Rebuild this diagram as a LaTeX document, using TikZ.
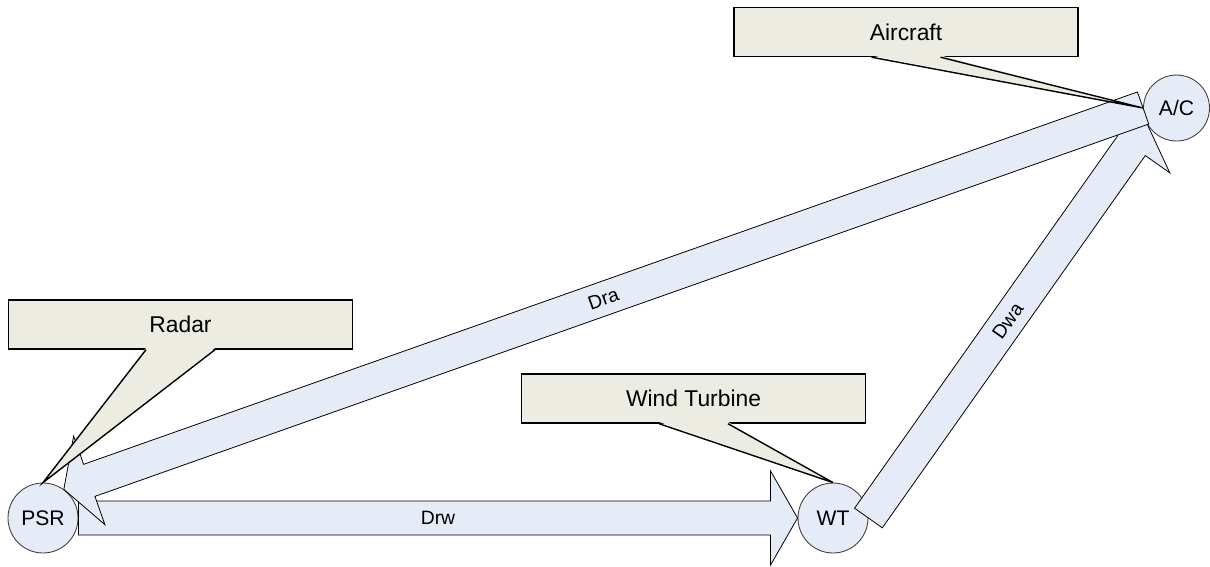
\documentclass[tikz,border=0pt]{standalone}
\usepackage{fontspec}
\setmainfont{Liberation Sans}
\usetikzlibrary{calc}

\definecolor{nodeblue}{RGB}{229,235,247}
\definecolor{notegray}{RGB}{236,236,226}

% block arrow: style, tail, tip, label name, label
\newcommand{\blockarrow}[5]{%
    \filldraw[#1] ($(#2)!0.34cm!90:(#3)$) -- ($(#3)!0.54cm!(#2)!0.34cm!90:(#3)$)
        -- ($(#3)!0.54cm!(#2)!0.94cm!90:(#3)$) -- (#3)
        -- ($(#3)!0.54cm!(#2)!0.94cm!-90:(#3)$) -- ($(#3)!0.54cm!(#2)!0.34cm!-90:(#3)$)
        -- ($(#2)!0.34cm!-90:(#3)$) -- cycle;
    \path (#2) -- (#3) node[midway, sloped, flowlabel] (#4) {#5};
}

% callout pointer: note node, target
\newcommand{\notepointer}[2]{%
    \fill[notegray] ($(#1.south)+(-0.69cm,0.035cm)$) -- (#2) -- ($(#1.south)+(0.69cm,0.035cm)$) -- cycle;
    \draw[noteline] ($(#1.south)+(-0.69cm,0)$) -- (#2) -- ($(#1.south)+(0.69cm,0)$);
}

\begin{document}
\begin{tikzpicture}[x=0.02cm, y=-0.02cm,
    station/.style={circle, draw=black!75, line width=0.5pt, fill=nodeblue, minimum size=1.4cm, inner sep=0pt, font=\fontsize{12}{14}\selectfont},
    flow/.style={draw=black, line width=0.45pt, fill=nodeblue, line join=miter},
    flowlabel/.style={inner sep=1pt, font=\fontsize{11}{13}\selectfont},
    noteline/.style={draw=black, line width=0.8pt, line join=miter},
    note/.style={noteline, rectangle, fill=notegray, minimum width=6.88cm, minimum height=0.98cm, font=\fontsize{13}{15}\selectfont}]
    \useasboundingbox (0,0) rectangle (1210,566);

    \node[station] (psr) at (43,518) {PSR};
    \node[station] (wt) at (833,518) {WT};
    \node[station, minimum size=1.32cm] (ac) at (1176.5,108) {A/C};

    \blockarrow{flow}{psr.east}{wt.west}{drw}{Drw} %radar to turbine
    \blockarrow{flow}{wt.east}{ac.208}{dwa}{Dwa} %turbine to aircraft
    \blockarrow{flow}{ac.west}{psr.54}{dra}{Dra} %aircraft to radar

    \node[note] (radar) at (180.5,324.5) {Radar};
    \notepointer{radar}{psr.north}
    \node[note] (turbine) at (693.5,398.5) {Wind Turbine};
    \notepointer{turbine}{wt.north}
    \node[note] (aircraft) at (906,32) {Aircraft};
    \notepointer{aircraft}{ac.west}
\end{tikzpicture}
\end{document}
